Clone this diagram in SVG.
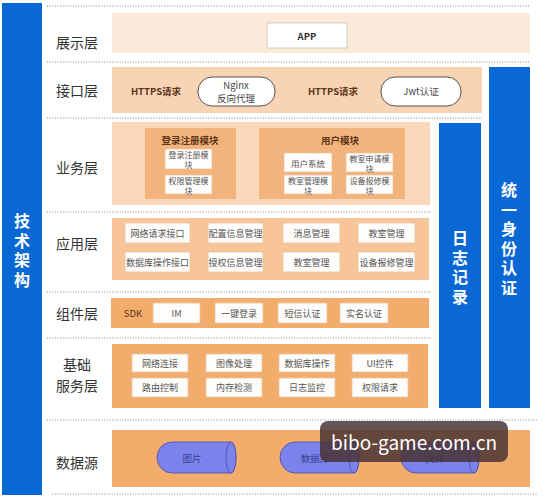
<svg xmlns="http://www.w3.org/2000/svg" width="546" height="500" viewBox="0 0 546 500">
<defs>
<style>
text{font-family:"Noto Sans CJK SC","Noto Sans",sans-serif;}
.lbl{font-size:14px;fill:#333;text-anchor:middle;dominant-baseline:central;}
.vt{font-size:16px;font-weight:bold;fill:#fff;text-anchor:middle;writing-mode:vertical-rl;letter-spacing:3.5px;}
.bx{fill:#fffdfb;stroke:#e6c2a0;stroke-width:0.8;}
.bt{font-size:9px;fill:#555;text-anchor:middle;dominant-baseline:central;}
.bt2{font-size:8px;fill:#555;text-anchor:middle;dominant-baseline:central;}
.hd{font-size:9.5px;font-weight:bold;fill:#5a3416;text-anchor:middle;dominant-baseline:central;}
.pill{fill:#fff;stroke:#5c5048;stroke-width:1;}
.dot{stroke:#8a8a8a;stroke-width:1;stroke-dasharray:1 1.6;fill:none;}
.blue{fill:#0a68d4;}
.cyl{fill:#7c82ec;stroke:#474ca6;stroke-width:0.8;}
.ct{font-size:9.5px;fill:#3b3f8f;text-anchor:middle;dominant-baseline:central;}
</style>
</defs>
<rect width="546" height="500" fill="#ffffff"/>

<g id="dividers">
<line class="dot" x1="47" y1="6" x2="530" y2="6"/>
<line class="dot" x1="47" y1="62" x2="530" y2="62"/>
<line class="dot" x1="47" y1="118" x2="482" y2="118"/>
<line class="dot" x1="47" y1="212" x2="432" y2="212"/>
<line class="dot" x1="47" y1="292" x2="432" y2="292"/>
<line class="dot" x1="47" y1="338" x2="432" y2="338"/>
<line class="dot" x1="47" y1="420" x2="537" y2="420"/>
<line class="dot" x1="52" y1="494" x2="537" y2="494"/>
</g>

<g id="tech-arch">
<rect class="blue" x="2" y="3" width="40" height="492"/>
<text class="vt" x="22" y="252">技术架构</text>
</g>

<g id="log-record">
<rect class="blue" x="439" y="123" width="42" height="285"/>
<text class="vt" x="460" y="269">日志记录</text>
</g>

<g id="unified-auth">
<rect class="blue" x="489" y="67" width="41" height="341"/>
<text class="vt" x="509" y="240.5">统一身份认证</text>
</g>

<g id="layer-presentation">
<text class="lbl" x="77" y="42">展示层</text>
<rect x="112" y="13" width="418" height="40" fill="#fbe9da"/>
<rect x="267" y="23" width="80" height="25" fill="#fff" stroke="#c8c0b8" stroke-width="0.8"/>
<text class="hd" x="307" y="35.5" style="fill:#333">APP</text>
</g>

<g id="layer-interface">
<text class="lbl" x="77" y="90">接口层</text>
<rect x="112" y="67" width="370" height="46" fill="#f8d3b4"/>
<text class="hd" x="156" y="91">HTTPS请求</text>
<rect class="pill" x="198" y="77" width="77" height="29" rx="14"/>
<text class="bt" style="font-size:9.5px;fill:#444"><tspan x="236" y="84.5">Nginx</tspan><tspan x="236" dy="13.5">反向代理</tspan></text>
<text class="hd" x="333" y="91">HTTPS请求</text>
<rect class="pill" x="381" y="77" width="80" height="29" rx="14"/>
<text class="bt" x="421" y="91" style="font-size:9.5px;fill:#444">Jwt认证</text>
</g>

<g id="layer-business">
<text class="lbl" x="77" y="167">业务层</text>
<rect x="112" y="122" width="318" height="83" fill="#fad8ba"/>
<g id="module-login">
<rect x="145" y="128" width="91" height="71" fill="#f3b37c"/>
<text class="hd" x="190" y="140">登录注册模块</text>
<rect class="bx" x="165" y="149" width="47" height="20"/>
<text class="bt2"><tspan x="188.5" y="154">登录注册模</tspan><tspan x="188.5" dy="10">块</tspan></text>
<rect class="bx" x="165" y="175" width="47" height="19"/>
<text class="bt2"><tspan x="188.5" y="179.5">权限管理模</tspan><tspan x="188.5" dy="10">块</tspan></text>
</g>
<g id="module-user">
<rect x="259" y="128" width="146" height="71" fill="#f3b37c"/>
<text class="hd" x="340" y="140">用户模块</text>
<rect class="bx" x="284" y="153" width="48" height="19"/>
<text class="bt2" x="308" y="162.5" style="font-size:8.5px">用户系统</text>
<rect class="bx" x="346" y="153" width="47" height="19"/>
<text class="bt2"><tspan x="369.5" y="157.5">教室申请模</tspan><tspan x="369.5" dy="10">块</tspan></text>
<rect class="bx" x="284" y="175" width="48" height="19"/>
<text class="bt2"><tspan x="308" y="179.5">教室管理模</tspan><tspan x="308" dy="10">块</tspan></text>
<rect class="bx" x="346" y="175" width="47" height="19"/>
<text class="bt2"><tspan x="369.5" y="179.5">设备报修模</tspan><tspan x="369.5" dy="10">块</tspan></text>
</g>
</g>

<g id="layer-application">
<text class="lbl" x="77" y="243">应用层</text>
<rect x="112" y="218" width="317" height="62" fill="#f7c597"/>
<rect class="bx" x="125" y="223" width="65" height="20"/><text class="bt" x="157.5" y="233">网络请求接口</text>
<rect class="bx" x="208" y="223" width="55" height="20"/><text class="bt" x="235.5" y="233">配置信息管理</text>
<rect class="bx" x="283" y="223" width="57" height="20"/><text class="bt" x="311.5" y="233">消息管理</text>
<rect class="bx" x="358" y="223" width="57" height="20"/><text class="bt" x="386.5" y="233">教室管理</text>
<rect class="bx" x="125" y="252" width="65" height="20"/><text class="bt" x="157.5" y="262">数据库操作接口</text>
<rect class="bx" x="208" y="252" width="55" height="20"/><text class="bt" x="235.5" y="262">授权信息管理</text>
<rect class="bx" x="283" y="252" width="57" height="20"/><text class="bt" x="311.5" y="262">教室管理</text>
<rect class="bx" x="358" y="252" width="57" height="20"/><text class="bt" x="386.5" y="262">设备报修管理</text>
</g>

<g id="layer-component">
<text class="lbl" x="77" y="313">组件层</text>
<rect x="111" y="298" width="318" height="30" fill="#f2ad6d"/>
<text class="bt" x="133" y="313" style="font-size:9.5px;fill:#5a3416">SDK</text>
<rect class="bx" x="153" y="303" width="47" height="20"/><text class="bt" x="176.5" y="313">IM</text>
<rect class="bx" x="215" y="303" width="48" height="20"/><text class="bt" x="239" y="313">一键登录</text>
<rect class="bx" x="278" y="303" width="49" height="20"/><text class="bt" x="302.5" y="313">短信认证</text>
<rect class="bx" x="340" y="303" width="48" height="20"/><text class="bt" x="364" y="313">实名认证</text>
</g>

<g id="layer-base-service">
<text class="lbl" x="77" y="364">基础</text>
<text class="lbl" x="77" y="385">服务层</text>
<rect x="112" y="344" width="316" height="64" fill="#f2ad6d"/>
<rect class="bx" x="132" y="354" width="56" height="18"/><text class="bt" x="160" y="363">网络连接</text>
<rect class="bx" x="206" y="354" width="56" height="18"/><text class="bt" x="234" y="363">图像处理</text>
<rect class="bx" x="279" y="354" width="56" height="18"/><text class="bt" x="307" y="363">数据库操作</text>
<rect class="bx" x="352" y="354" width="56" height="18"/><text class="bt" x="380" y="363">UI控件</text>
<rect class="bx" x="132" y="378" width="56" height="19"/><text class="bt" x="160" y="387.5">路由控制</text>
<rect class="bx" x="206" y="378" width="56" height="19"/><text class="bt" x="234" y="387.5">内存检测</text>
<rect class="bx" x="279" y="378" width="56" height="19"/><text class="bt" x="307" y="387.5">日志监控</text>
<rect class="bx" x="352" y="378" width="56" height="19"/><text class="bt" x="380" y="387.5">权限请求</text>
</g>

<g id="layer-data">
<text class="lbl" x="77" y="462">数据源</text>
<rect x="112" y="430" width="418" height="57" fill="#f2ad6d"/>
<g id="ds-image">
<path class="cyl" d="M172,442 H231 A5,15.5 0 0 1 231,473 H172 A15,15.5 0 0 1 172,442 Z"/>
<ellipse class="cyl" cx="231" cy="457.5" rx="5" ry="15.5"/>
<text class="ct" x="192" y="458">图片</text>
</g>
<g id="ds-db">
<path class="cyl" d="M295,442 H354 A5,15.5 0 0 1 354,473 H295 A15,15.5 0 0 1 295,442 Z"/>
<ellipse class="cyl" cx="354" cy="457.5" rx="5" ry="15.5"/>
<text class="ct" x="315" y="458">数据库</text>
</g>
<g id="ds-file">
<path class="cyl" d="M416,442 H474 A5,15.5 0 0 1 474,473 H416 A15,15.5 0 0 1 416,442 Z"/>
<ellipse class="cyl" cx="474" cy="457.5" rx="5" ry="15.5"/>
<text class="ct" x="435" y="458">文件</text>
</g>
</g>

<g id="watermark">
<rect x="320" y="421" width="188" height="41" rx="8" fill="#4a3434" fill-opacity="0.85"/>
<text x="414" y="441" font-family="Noto Sans, sans-serif" font-size="20" fill="#ffffff" text-anchor="middle" dominant-baseline="central" textLength="166" lengthAdjust="spacingAndGlyphs">bibo-game.com.cn</text>
</g>
</svg>
